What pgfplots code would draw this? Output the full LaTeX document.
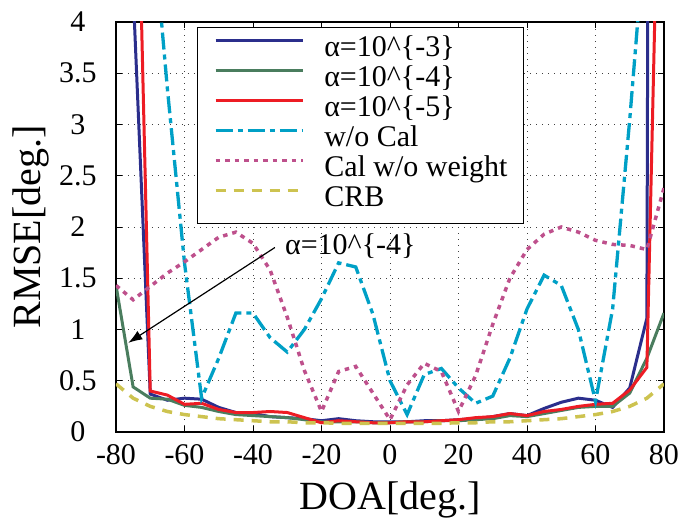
\documentclass[border=0pt]{standalone}
\usepackage{fontspec}
\setmainfont{Liberation Serif}
\usepackage{pgfplots}
\pgfplotsset{compat=1.18}
\usetikzlibrary{arrows.meta}
\definecolor{cblue}{HTML}{2B2E8C}
\definecolor{cgreen}{HTML}{4A7D5E}
\definecolor{cred}{HTML}{ED1C24}
\definecolor{ccyan}{HTML}{00A0C6}
\definecolor{cpink}{HTML}{BE508C}
\definecolor{cyel}{HTML}{CDC350}
\begin{document}
\begin{tikzpicture}
\begin{axis}[
  scale only axis, width=548bp, height=410bp,
  xmin=-80, xmax=80, ymin=0, ymax=4,
  xtick={-80,-60,-40,-20,0,20,40,60,80},
  xticklabels={-80,-60,-40,-20,0,20,40,60,80},
  ytick={0,0.5,1,1.5,2,2.5,3,3.5,4},
  yticklabels={0,0.5,1,1.5,2,2.5,3,3.5,4},
  tick align=inside, major tick length=6bp,
  tick style={black, line width=0.8bp},
  grid=major,
  major grid style={black!75, line width=0.8bp, dash pattern=on 1bp off 5bp},
  axis line style={line width=1.3bp, black},
  ticklabel style={font=\fontsize{30bp}{36bp}\selectfont},
  xticklabel style={anchor=center, yshift=-23bp},
  yticklabel style={anchor=center, xshift=-38bp},
  xlabel={DOA[deg.]}, ylabel={RMSE[deg.]},
  label style={font=\fontsize{40bp}{48bp}\selectfont},
  xlabel style={at={(axis description cs:0.5,-0.166)}, anchor=center},
  ylabel style={at={(axis description cs:-0.155,0.5)}, anchor=center},
  legend style={at={(rel axis cs:0.148,0.988)}, anchor=north west, draw=black,
    line width=1.3bp, fill=white, inner xsep=16bp, inner ysep=8bp,
    row sep=0bp, column sep=20bp, font=\fontsize{30bp}{31bp}\selectfont,
    nodes={inner sep=0pt, text height=21bp, text depth=9bp}},
  legend cell align=left,
  legend image code/.code={\draw[#1] (0bp,10bp) -- (87bp,10bp);},
]
\addplot[cblue, line width=3bp] coordinates {
(-80,30) (-75,4.3) (-70,0.37) (-65,0.31) (-60,0.33) (-55,0.32) (-50,0.24) (-45,0.19)
(-40,0.18) (-35,0.15) (-30,0.14) (-25,0.13) (-20,0.11) (-15,0.13) (-10,0.11) (-5,0.10)
(0,0.10) (5,0.10) (10,0.11) (15,0.11) (20,0.12) (25,0.13) (30,0.15) (35,0.18)
(40,0.16) (45,0.23) (50,0.29) (55,0.33) (60,0.31) (65,0.24) (70,0.43) (75,1.11) (80,60)};
\addlegendentry{α=10\textasciicircum\{-3\}}
\addplot[cgreen, line width=3bp] coordinates {
(-80,1.43) (-75,0.44) (-70,0.33) (-65,0.32) (-60,0.26) (-55,0.24) (-50,0.20) (-45,0.17)
(-40,0.16) (-35,0.15) (-30,0.14) (-25,0.12) (-20,0.10) (-15,0.10) (-10,0.10) (-5,0.09)
(0,0.09) (5,0.10) (10,0.10) (15,0.11) (20,0.11) (25,0.12) (30,0.13) (35,0.16)
(40,0.15) (45,0.18) (50,0.21) (55,0.24) (60,0.25) (65,0.25) (70,0.38) (75,0.72) (80,1.16)};
\addlegendentry{α=10\textasciicircum\{-4\}}
\addplot[cred, line width=3bp] coordinates {
(-80,30) (-75,7.5) (-70,0.40) (-65,0.36) (-60,0.27) (-55,0.28) (-50,0.22) (-45,0.19)
(-40,0.19) (-35,0.20) (-30,0.19) (-25,0.14) (-20,0.09) (-15,0.11) (-10,0.10) (-5,0.09)
(0,0.09) (5,0.10) (10,0.10) (15,0.11) (20,0.12) (25,0.14) (30,0.15) (35,0.18)
(40,0.16) (45,0.20) (50,0.22) (55,0.25) (60,0.27) (65,0.28) (70,0.41) (75,0.63) (80,8)};
\addlegendentry{α=10\textasciicircum\{-5\}}
\addplot[ccyan, line width=3.3bp, dash pattern=on 17bp off 5bp on 5bp off 5bp] coordinates {
(-80,12) (-75,8) (-70,5.25) (-65,3.35) (-60,1.65) (-55,0.33) (-50,0.72) (-45,1.16)
(-40,1.16) (-35,0.92) (-30,0.78) (-25,1.0) (-20,1.3) (-15,1.65) (-10,1.61) (-5,1.15)
(0,0.5) (5,0.17) (10,0.56) (15,0.62) (20,0.43) (25,0.28) (30,0.35) (35,0.72)
(40,1.2) (45,1.53) (50,1.43) (55,1.0) (60,0.30) (65,1.2) (70,3.05) (75,5.1) (80,8)};
\addlegendentry{w/o Cal}
\addplot[cpink, line width=3.5bp, dash pattern=on 4.5bp off 5bp] coordinates {
(-80,1.43) (-75,1.29) (-70,1.42) (-65,1.55) (-60,1.66) (-55,1.78) (-50,1.9) (-45,1.95)
(-40,1.84) (-35,1.58) (-30,1.12) (-25,0.6) (-20,0.2) (-15,0.59) (-10,0.64) (-5,0.38)
(0,0.12) (5,0.46) (10,0.67) (15,0.59) (20,0.2) (25,0.55) (30,1.05) (35,1.5)
(40,1.78) (45,1.93) (50,2.0) (55,1.95) (60,1.87) (65,1.83) (70,1.82) (75,1.78) (80,2.38)};
\addlegendentry{Cal w/o weight}
\addplot[cyel, line width=3.5bp, dash pattern=on 10bp off 8bp] coordinates {
(-80,0.47) (-75,0.33) (-70,0.25) (-65,0.20) (-60,0.17) (-55,0.15) (-50,0.13) (-45,0.12)
(-40,0.11) (-35,0.10) (-30,0.10) (-25,0.09) (-20,0.09) (-15,0.085) (-10,0.085) (-5,0.085)
(0,0.085) (5,0.085) (10,0.085) (15,0.085) (20,0.09) (25,0.09) (30,0.10) (35,0.10)
(40,0.11) (45,0.12) (50,0.13) (55,0.15) (60,0.17) (65,0.20) (70,0.25) (75,0.33) (80,0.47)};
\addlegendentry{CRB}
\draw[-{Latex[length=14bp,width=10bp]}, line width=1.2bp, black] (axis cs:-33.6,1.8) -- (axis cs:-76.4,0.87);
\node[anchor=west, inner sep=0pt, font=\fontsize{30bp}{36bp}\selectfont] at (axis cs:-30.7,1.81) {α=10\textasciicircum\{-4\}};
\end{axis}
\pgfresetboundingbox
\path[use as bounding box] (-116bp,-86bp) rectangle (575bp,432bp);
\end{tikzpicture}
\end{document}
